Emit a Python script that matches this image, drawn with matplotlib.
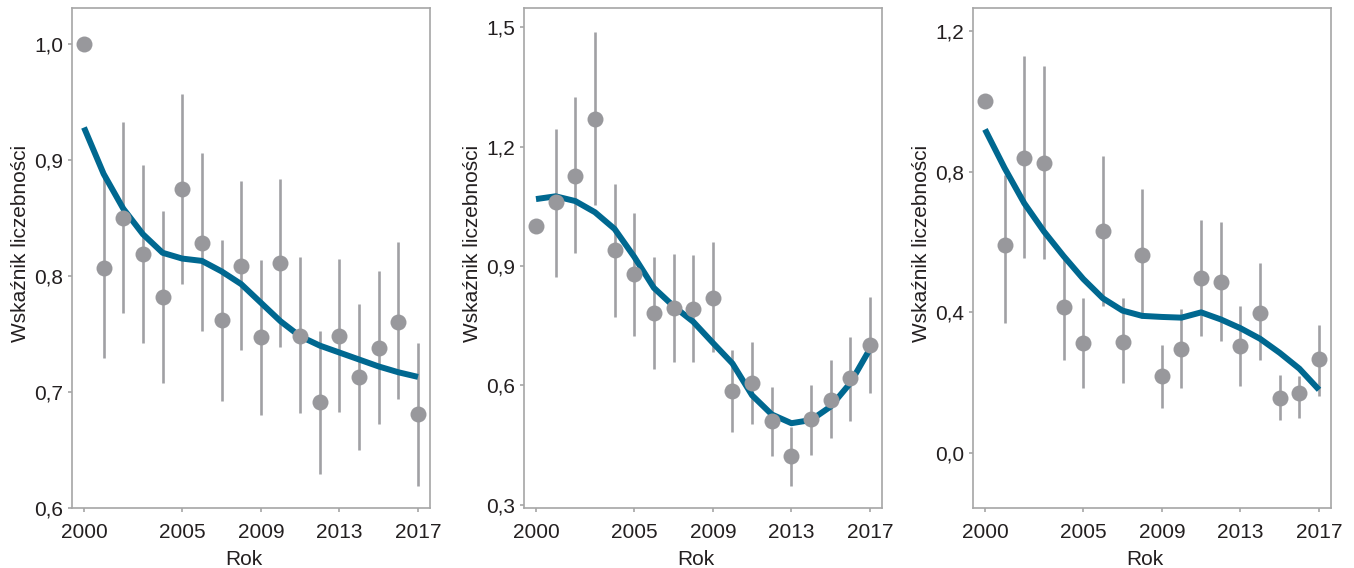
import numpy as np
import matplotlib
matplotlib.use("Agg")
from matplotlib import pyplot as plt
from matplotlib.ticker import FuncFormatter

plt.rcParams['font.family'] = ['Liberation Sans', 'DejaVu Sans']

years = list(range(2000, 2018))
xticks = [2000, 2005, 2009, 2013, 2017]

# panel 1
idx1 = [1.000, 0.807, 0.850, 0.819, 0.782, 0.875, 0.828, 0.762, 0.809,
        0.747, 0.811, 0.748, 0.691, 0.748, 0.713, 0.738, 0.760, 0.681]
lo1 = [np.nan, 0.729, 0.768, 0.742, 0.708, 0.793, 0.753, 0.692, 0.736,
       0.680, 0.739, 0.682, 0.629, 0.683, 0.650, 0.672, 0.694, 0.619]
hi1 = [np.nan, 0.888, 0.933, 0.896, 0.856, 0.957, 0.906, 0.831, 0.882,
       0.814, 0.884, 0.816, 0.753, 0.815, 0.776, 0.804, 0.829, 0.742]
trend1 = [0.928, 0.888, 0.858, 0.836, 0.820, 0.815, 0.813, 0.804, 0.793,
          0.777, 0.761, 0.748, 0.740, 0.734, 0.728, 0.722, 0.717, 0.713]

# panel 2
idx2 = [1.000, 1.060, 1.126, 1.269, 0.940, 0.879, 0.781, 0.794, 0.791,
        0.819, 0.585, 0.606, 0.510, 0.422, 0.515, 0.563, 0.618, 0.701]
lo2 = [np.nan, 0.872, 0.932, 1.053, 0.771, 0.724, 0.641, 0.658, 0.658,
       0.683, 0.482, 0.503, 0.422, 0.347, 0.425, 0.467, 0.510, 0.580]
hi2 = [np.nan, 1.244, 1.324, 1.487, 1.106, 1.033, 0.922, 0.930, 0.927,
       0.960, 0.688, 0.709, 0.595, 0.495, 0.601, 0.663, 0.721, 0.822]
trend2 = [1.068, 1.075, 1.063, 1.035, 0.993, 0.923, 0.845, 0.799, 0.760,
          0.707, 0.655, 0.575, 0.527, 0.505, 0.513, 0.547, 0.606, 0.692]

# panel 3
idx3 = [1.000, 0.591, 0.839, 0.825, 0.415, 0.313, 0.631, 0.316, 0.563,
        0.219, 0.296, 0.498, 0.486, 0.304, 0.398, 0.157, 0.171, 0.267]
lo3 = [np.nan, 0.370, 0.555, 0.552, 0.265, 0.185, 0.418, 0.199, 0.384,
       0.128, 0.185, 0.333, 0.319, 0.191, 0.265, 0.094, 0.100, 0.162]
hi3 = [np.nan, 0.790, 1.129, 1.100, 0.560, 0.441, 0.845, 0.441, 0.751,
       0.307, 0.410, 0.663, 0.657, 0.418, 0.540, 0.222, 0.220, 0.364]
trend3 = [0.920, 0.810, 0.710, 0.630, 0.560, 0.495, 0.440, 0.405, 0.390,
          0.387, 0.385, 0.400, 0.380, 0.355, 0.325, 0.285, 0.240, 0.180]

panels = [
    (idx1, lo1, hi1, trend1, [0.6, 0.7, 0.8, 0.9, 1.0], (0.6, 1.031)),
    (idx2, lo2, hi2, trend2, [0.3, 0.6, 0.9, 1.2, 1.5], (0.292, 1.548)),
    (idx3, lo3, hi3, trend3, [0.0, 0.4, 0.8, 1.2], (-0.156, 1.265)),
]
lefts = [72, 524, 973]
width = 358

W, H = 1354, 568
fig = plt.figure(figsize=(W / 100, H / 100), dpi=100)

frame_col = "#a6a6a6"
txt_col = "#231f20"
pt_col = "#98989c"
line_col = "#006890"

comma = FuncFormatter(lambda v, p: ("%.1f" % v).replace(".", ","))

for (idx, lo, hi, trend, yt, ylim), left in zip(panels, lefts):
    ax = fig.add_axes([left / W, 1 - 508 / H, width / W, 500 / H])
    x = np.array(years)
    for xi, l, h in zip(x, lo, hi):
        if not np.isnan(l):
            ax.plot([xi, xi], [l, h], color="#a0a0a4", lw=1.9, zorder=1,
                    solid_capstyle="butt")
    ax.plot(x, trend, color=line_col, lw=4.3, zorder=2,
            solid_capstyle="butt")
    ax.plot(x, idx, "o", color=pt_col, ms=11.5, mec="none", zorder=3)

    ax.set_xlim(1999.39, 2017.61)
    ax.set_ylim(*ylim)
    ax.set_xticks(xticks)
    ax.set_yticks(yt)
    ax.yaxis.set_major_formatter(comma)
    for s in ax.spines.values():
        s.set_color(frame_col)
        s.set_linewidth(1.2)
    ax.tick_params(colors=frame_col, labelcolor=txt_col, labelsize=15,
                   length=3, width=1.2)
    ax.tick_params(axis="x", pad=7.5)
    ax.tick_params(axis="y", pad=3.5)
    ax.set_xlabel("Rok", fontsize=15, color=txt_col, va="baseline")
    ax.xaxis.set_label_coords(0.48, -0.114)
    ax.set_ylabel("Wskaźnik liczebności", fontsize=15, color=txt_col,
                  va="center")
    ax.yaxis.set_label_coords(-0.145, 0.53)

fig.savefig("out.png", dpi=100)
